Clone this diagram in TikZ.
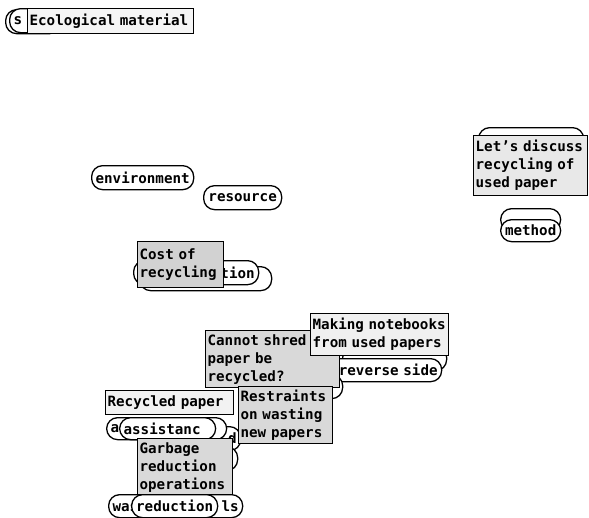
\documentclass[tikz,border=0pt]{standalone}
\usepackage{fontspec}
\setmonofont{DejaVu Sans Mono}
\usepackage{tikz}
\newcommand{\cardfont}{\ttfamily\bfseries\fontsize{14.2}{18}\selectfont}

\begin{document}
\begin{tikzpicture}[
        x=1pt, y=-1pt,
        card/.style={rectangle, draw, line width=1.3pt, anchor=north west,
        inner xsep=2pt, inner ysep=2pt, align=left, font=\cardfont},
        pill/.style={rectangle, draw, rounded corners=11pt, fill=white,
        line width=1.3pt, anchor=north west, minimum height=24pt,
        inner xsep=4pt, inner ysep=1pt, font=\cardfont}
    ]
        \useasboundingbox (0,0) rectangle (589,517);

% Top left
        \node[pill, minimum width=55pt] (sback) at (5,9) {};
        \node[pill, minimum width=55pt, text width=47pt, align=left] (spill) at (9,8) {s};
        \node[card, fill=gray!8, minimum width=166pt, minimum height=25pt,
        text width=162pt] (ecocard) at (27,8) {Ecological material};

% Keywords
        \node[pill, minimum width=101pt] (envpill) at (91,165) {environment};
        \node[pill, minimum width=78pt] (respill) at (203,185) {resource};

% Cost of recycling
        \node[pill, minimum width=132pt] (tionback) at (139,266) {};
        \node[pill, minimum width=125pt, text width=117pt, align=right] (tionpill) at (133,260) {tion};
        \node[card, fill=gray!35, minimum width=86pt, minimum height=46pt,
        text width=82pt] (costcard) at (137,241) {Cost of\\ recycling};

% Right side
        \node[pill, minimum width=105pt] (discback) at (478,127) {};
        \node[card, fill=gray!18, minimum width=114pt, minimum height=60pt,
        text width=110pt] (disccard) at (473,135) {Let’s discuss\\ recycling of\\ used paper};
        \node[pill, minimum width=60pt, minimum height=22pt] (methback) at (500,208) {};
        \node[pill, minimum width=60pt, minimum height=22pt] (methpill) at (500,219) {method};

% Middle group
        \node[pill, minimum width=104pt] (revback) at (342,346) {};
        \node[pill, minimum width=118pt, minimum height=23pt, text width=110pt,
        align=right] (revpill) at (323,358) {reverse side};
        \node[pill, minimum width=92pt] (restback) at (250,374) {};
        \node[card, fill=gray!30, minimum width=134pt, minimum height=57pt,
        text width=130pt] (shredcard) at (205,330) {Cannot shred\\ paper be\\ recycled?};
        \node[card, fill=gray!12, minimum width=138pt, minimum height=42pt,
        text width=134pt] (notecard) at (310,313) {Making notebooks\\ from used papers};

% Bottom left group
        \node[pill, minimum width=88pt, text width=80pt, align=right] (dpill) at (152,426) {d};
        \node[pill, minimum width=87pt] (garbback) at (150,446) {};
        \node[pill, minimum width=120pt, minimum height=22pt, text width=112pt,
        align=left] (acpill) at (106,417) {ac};
        \node[pill, minimum width=96pt, minimum height=22pt, text width=88pt,
        align=left] (assistpill) at (119,417) {assistanc};
        \node[card, fill=gray!10, minimum width=128pt, minimum height=24pt,
        text width=124pt] (paprcard) at (105,390) {Recycled paper};
        \node[card, fill=gray!30, minimum width=94pt, minimum height=57pt,
        text width=90pt] (restcard) at (238,386) {Restraints\\ on wasting\\ new papers};
        \node[card, fill=gray!30, minimum width=95pt, minimum height=57pt,
        text width=91pt] (garbcard) at (137,438) {Garbage\\ reduction\\ operations};

% Bottom pills
        \node[pill, minimum width=134pt, minimum height=23pt, text width=126pt,
        align=left] (wastepill) at (108,494) {was\hfill ls};
        \node[pill, minimum width=86pt, minimum height=23pt] (redpill) at (131,494) {reduction};

    \end{tikzpicture}
\end{document}
